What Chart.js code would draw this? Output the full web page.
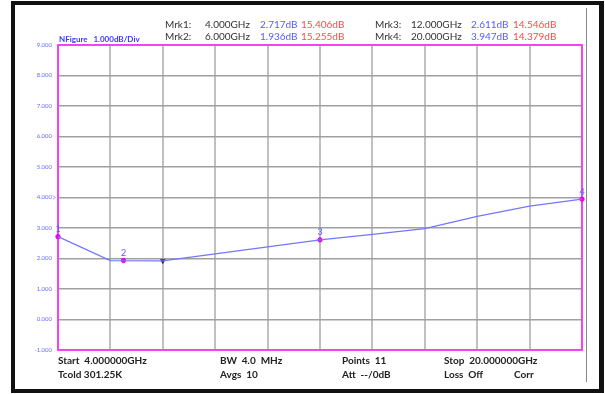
<!DOCTYPE html>
<html>
<head>
<meta charset="utf-8">
<script src="https://cdn.jsdelivr.net/npm/chart.js@4/dist/chart.umd.min.js"></script>
<style>
  html, body { margin: 0; padding: 0; background: #fff; }
  #wrap { position: relative; width: 605px; height: 394px; overflow: hidden; font-family: Lato, "Liberation Sans", sans-serif; }
  #frame { position: absolute; left: 11px; top: 1px; width: 584px; height: 384px; border: 4px solid #111; border-right-width: 5px; box-sizing: content-box; }
  #sep { position: absolute; left: 586px; top: 8px; width: 1px; height: 374px; background: #888; }
  canvas { position: absolute; left: 0; top: 0; }
  .t { position: absolute; font-size: 10px; line-height: 12px; white-space: pre; color: #333; }
  .b { color: #5a5aff; }
  .r { color: #ff4a4a; }
  .f { font-weight: bold; color: #222; }
  #nf { position: absolute; left: 59px; top: 34px; font-size: 8px; font-weight: bold; color: #3a3aff; white-space: pre; }
</style>
</head>
<body>
<div id="wrap">
  <div id="frame"></div>
  <div id="sep"></div>
  <canvas id="c" width="605" height="394"></canvas>
  <div id="nf">NFigure   1.000dB/Div</div>
  <div id="hdr"></div>
  <div id="ftr"></div>
</div>
<script>
// Sweep: 11 points from 4 to 20 GHz
const freqGHz = [4.0, 5.6, 7.2, 8.8, 10.4, 12.0, 13.6, 15.2, 16.8, 18.4, 20.0];
const noiseFigureDb = [2.717, 1.93, 1.92, 2.15, 2.38, 2.611, 2.79, 2.98, 3.38, 3.72, 3.947];

// Markers
const markerNames = ['Mrk1:', 'Mrk2:', 'Mrk3:', 'Mrk4:'];
const markerFreqGHz = [4.0, 6.0, 12.0, 20.0];
const markerNfDb = [2.717, 1.936, 2.611, 3.947];
const markerGainDb = [15.406, 15.255, 14.546, 14.379];

// Active marker and reference level
const activeFreqGHz = [7.2];
const activeNfDb = [1.92];
const refLevelDb = 4.0;

// Axes
const yTicks = [-1, 0, 1, 2, 3, 4, 5, 6, 7, 8, 9];
const xTicks = [4.0, 5.6, 7.2, 8.8, 10.4, 12.0, 13.6, 15.2, 16.8, 18.4, 20.0];

// Status lines under the plot
const footerRow1 = [['Start  4.000000GHz', 58], ['BW  4.0  MHz', 220], ['Points  11', 342], ['Stop  20.000000GHz', 444]];
const footerRow2 = [['Tcold 301.25K', 58], ['Avgs  10', 220], ['Att  --/0dB', 342], ['Loss  Off', 444], ['Corr', 514]];

// Header marker readout
(function () {
  const hdr = document.getElementById('hdr');
  const cols = [[165, 205, 260, 301], [375, 411, 471, 513]];
  const rows = [18, 30];
  markerNames.forEach((name, i) => {
    const c = cols[Math.floor(i / 2)];
    const top = rows[i % 2];
    const parts = [
      [name, c[0], ''],
      [markerFreqGHz[i].toFixed(3) + 'GHz', c[1], ''],
      [markerNfDb[i].toFixed(3) + 'dB', c[2], 'b'],
      [markerGainDb[i].toFixed(3) + 'dB', c[3], 'r']
    ];
    parts.forEach(([txt, x, cls]) => {
      const d = document.createElement('div');
      d.className = 't ' + cls;
      d.style.left = x + 'px';
      d.style.top = top + 'px';
      d.textContent = txt;
      hdr.appendChild(d);
    });
  });
  const ftr = document.getElementById('ftr');
  [[footerRow1, 354], [footerRow2, 368]].forEach(([row, top]) => {
    row.forEach(([txt, x]) => {
      const d = document.createElement('div');
      d.className = 't f';
      d.style.left = x + 'px';
      d.style.top = top + 'px';
      d.textContent = txt;
      ftr.appendChild(d);
    });
  });
})();

const overlay = {
  id: 'overlay',
  beforeDatasetsDraw(chart) {
    const { ctx, chartArea: a } = chart;
    ctx.save();
    ctx.strokeStyle = '#ff33ff';
    ctx.lineWidth = 1.8;
    ctx.strokeRect(a.left, a.top, a.right - a.left, a.bottom - a.top);
    // reference level caret
    const y = chart.scales.y.getPixelForValue(refLevelDb);
    ctx.strokeStyle = '#6a6aff';
    ctx.lineWidth = 0.8;
    ctx.beginPath();
    ctx.moveTo(a.left - 5, y - 2);
    ctx.lineTo(a.left - 3, y);
    ctx.lineTo(a.left - 5, y + 2);
    ctx.stroke();
    ctx.restore();
  },
  afterDatasetsDraw(chart) {
    const { ctx } = chart;
    const xs = chart.scales.x, ys = chart.scales.y;
    ctx.save();
    ctx.fillStyle = '#5a5aff';
    ctx.font = '9px Lato, sans-serif';
    ctx.textAlign = 'center';
    ctx.textBaseline = 'bottom';
    markerFreqGHz.forEach((f, i) => {
      ctx.fillText(String(i + 1), xs.getPixelForValue(f), ys.getPixelForValue(markerNfDb[i]) - 3);
    });
    ctx.restore();
  }
};

new Chart(document.getElementById('c'), {
  type: 'line',
  data: {
    datasets: [
      {
        data: freqGHz.map((f, i) => ({ x: f, y: noiseFigureDb[i] })),
        borderColor: '#7575ff',
        borderWidth: 1.2,
        pointRadius: 0,
        tension: 0,
        clip: false
      },
      {
        data: markerFreqGHz.map((f, i) => ({ x: f, y: markerNfDb[i] })),
        showLine: false,
        pointStyle: 'circle',
        pointRadius: 2.2,
        pointBackgroundColor: '#ee00ee',
        pointBorderColor: '#ee00ee',
        clip: false
      },
      {
        data: activeFreqGHz.map((f, i) => ({ x: f, y: activeNfDb[i] })),
        showLine: false,
        pointStyle: 'triangle',
        rotation: 180,
        pointRadius: 2.8,
        pointBackgroundColor: '#222',
        pointBorderColor: '#222',
        pointBorderWidth: 0.5,
        clip: false
      }
    ]
  },
  options: {
    responsive: false,
    animation: false,
    events: [],
    layout: { padding: { left: 0, top: 45, right: 23, bottom: 44 } },
    plugins: { legend: { display: false }, tooltip: { enabled: false } },
    scales: {
      x: {
        type: 'linear',
        min: 4, max: 20,
        afterBuildTicks: s => { s.ticks = xTicks.map(v => ({ value: v })); },
        afterFit: s => { s.height = 0; },
        ticks: { display: false },
        border: { display: false },
        grid: { color: 'rgba(185,185,185,0.9)', lineWidth: 2, drawTicks: false }
      },
      y: {
        min: -1, max: 9,
        afterBuildTicks: s => { s.ticks = yTicks.map(v => ({ value: v })); },
        afterFit: s => { s.width = 58; },
        ticks: {
          padding: 6,
          color: '#6a6aff',
          font: { size: 6, family: 'Lato, sans-serif' },
          callback: v => Number(v).toFixed(3)
        },
        border: { display: false },
        grid: { color: '#a0a0a0', lineWidth: 1.5, drawTicks: false }
      }
    }
  },
  plugins: [overlay]
});
</script>
</body>
</html>
